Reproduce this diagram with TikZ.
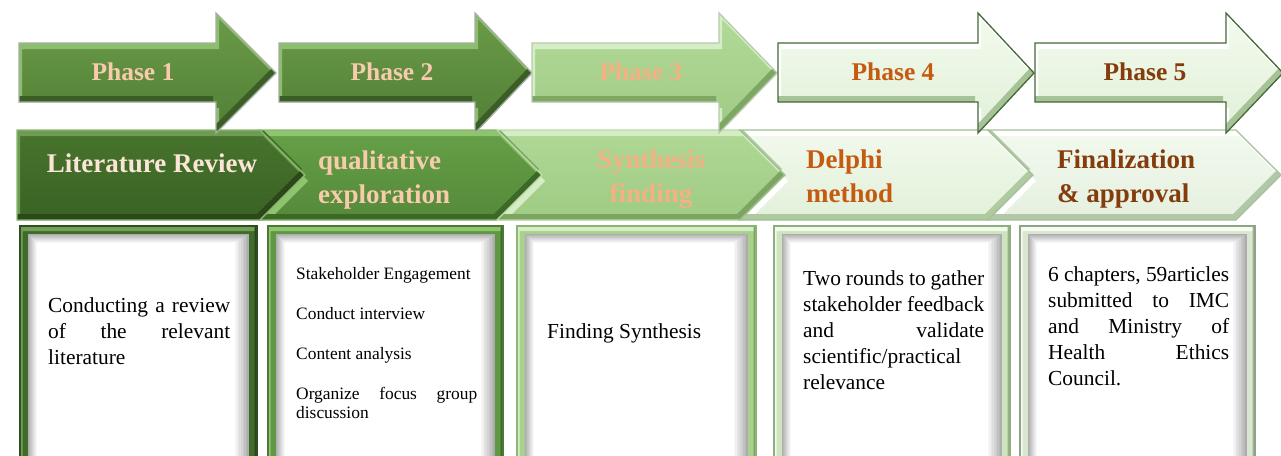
\documentclass[tikz,border=0pt]{standalone}
\usepackage{fontspec}
\setmainfont{Liberation Serif}
\definecolor{peachA}{HTML}{F8CBAD}
\definecolor{peachB}{HTML}{F4B183}
\definecolor{creamA}{HTML}{FBE5D6}
\definecolor{orangeA}{HTML}{C55A11}
\definecolor{brownA}{HTML}{843C0C}
\newcommand\bevelpath[7]{%
  \definecolor{bvtop}{HTML}{#2}\definecolor{bvbot}{HTML}{#3}%
  \definecolor{bvlight}{HTML}{#4}\definecolor{bvdark}{HTML}{#5}%
  \definecolor{bvline}{HTML}{#6}%
  \begin{scope}
    \clip #1;
    \shade[top color=bvtop, bottom color=bvbot] #1;
    \fill[bvlight, even odd rule, shift={(0.5*#7,#7)}] (-2000,-2000) rectangle (4000,4000) #1;
    \fill[bvdark, even odd rule, shift={(-0.5*#7,-#7)}] (-2000,-2000) rectangle (4000,4000) #1;
  \end{scope}
  \draw[bvline, line width=1.3pt, line join=miter] #1;
}
\newcommand\phasearrow[8]{% L H T facetop facebottom light dark outline
  \bevelpath{(#1,43) -- (#2,43) -- (#2,13) -- (#3,73) -- (#2,133) -- (#2,102) -- (#1,102) -- cycle}{#4}{#5}{#6}{#7}{#8}{6}%
}
\newcommand\chevshape[8]{% L S T facetop facebottom light dark outline
  \bevelpath{(#1,130) -- (#2,130) -- (#3,175) -- (#2,220) -- (#1,220) -- (#1+45,175) -- cycle}{#4}{#5}{#6}{#7}{#8}{6}%
}
\newcommand\chevfirst[8]{% L S T facetop facebottom light dark outline
  \bevelpath{(#1,130) -- (#2,130) -- (#3,175) -- (#2,220) -- (#1,220) -- cycle}{#4}{#5}{#6}{#7}{#8}{6}%
}
\newcommand\panelbox[6]{% L R frame light dark outline
  \bevelpath{(#1,226) rectangle (#2,462)}{#3}{#3}{#4}{#5}{#6}{5}%
  \foreach \k in {0,...,9} {%
    \pgfmathtruncatemacro\sh{max(0,32-3.6*\k)}%
    \fill[black!\sh!white] (#1+8+\k,234+\k) rectangle (#2-8-1.6*\k,462);
  }%
}
\tikzset{
  phasetxt/.style={font=\bfseries\fontsize{25.5}{30}\selectfont, anchor=base, inner sep=0pt},
  headtxt/.style={font=\bfseries\fontsize{27}{34}\selectfont, inner sep=0pt},
  bodytxt/.style={font=\fontsize{21.4}{26}\selectfont, inner sep=0pt, anchor=base west, text=black},
  smalltxt/.style={font=\fontsize{17.4}{19}\selectfont, inner sep=0pt, anchor=base west, text=black},
}
\begin{document}
\begin{tikzpicture}[x=1pt,y=-1pt]
\useasboundingbox (0,0) rectangle (1281,455);
\fill[white] (0,0) rectangle (1281,455);

% ---- lower panels ----
\panelbox{20}{257}{3F6D29}{739F58}{29481A}{2F4F20}
\panelbox{268}{503}{5F9843}{90C471}{3E6A27}{4C7A35}
\panelbox{517}{756}{A8D18E}{D6EDC8}{7BA460}{8DB475}
\panelbox{774}{1010}{CDE5BE}{F2FAEC}{93B383}{90AD82}
\panelbox{1020}{1255}{D9E7D1}{F6FAF3}{9CB292}{8FA386}

% ---- chevron row ----
\chevfirst{17}{260}{305}{47742D}{3A6224}{6F9C54}{2A4819}{8AB86D}
\chevshape{260}{497}{542}{65A046}{55893A}{8EC36F}{3D6927}{8AB86D}
\chevshape{497}{740}{785}{AFD895}{9FCB84}{D4EDC4}{7BA561}{BCD9A8}
\chevshape{740}{988}{1033}{F1F9EC}{E2F0D9}{FFFFFF}{AFC9A1}{9FBF8E}
\chevshape{988}{1236}{1281}{F2F9EE}{E5F0DF}{FFFFFF}{B2C7A8}{A6C19A}

% ---- phase arrows ----
\phasearrow{19}{216}{276}{6A9C48}{517E35}{8DBD6E}{3A5E25}{A4B0A0}
\phasearrow{279}{475}{532}{6A9C48}{517E35}{8DBD6E}{3A5E25}{A4B0A0}
\phasearrow{532}{719}{777}{B2DA98}{9FCA83}{D6EEC7}{7DA763}{B7CBAB}
\phasearrow{778}{978}{1034}{F3FAEE}{E1F0D8}{FFFFFF}{A6C397}{46683A}
\phasearrow{1035}{1226}{1283}{F3FAEE}{E1F0D8}{FFFFFF}{A6C397}{46683A}

% ---- phase labels ----
\node[phasetxt, text=peachA]  (p1) at (133,80) {Phase 1};
\node[phasetxt, text=peachA]  (p2) at (392,80) {Phase 2};
\node[phasetxt, text=peachB]  (p3) at (641,80) {Phase 3};
\node[phasetxt, text=orangeA] (p4) at (893,80) {Phase 4};
\node[phasetxt, text=brownA]  (p5) at (1145,80) {Phase 5};

% ---- chevron headings ----
\node[headtxt, text=creamA, anchor=base] (h1) at (152,172) {Literature Review};
\node[headtxt, text=peachA, anchor=base west] (h2) at (318,169)
  {\parbox[t]{200pt}{\raggedright qualitative\\exploration}};
\node[headtxt, text=peachB, anchor=base] (h3) at (651,168)
  {\parbox[t]{200pt}{\centering Synthesis\\finding}};
\node[headtxt, text=orangeA, anchor=base west] (h4) at (806,168)
  {\parbox[t]{200pt}{\raggedright Delphi\\method}};
\node[headtxt, text=brownA, anchor=base west] (h5) at (1057,168)
  {\parbox[t]{200pt}{\raggedright Finalization\\\&~approval}};

% ---- panel texts ----
\node[bodytxt] (t1) at (48,312)
  {\parbox[t]{182pt}{Conducting a review\linebreak of the relevant\linebreak literature}};
\node[smalltxt] (t2) at (296,279)
  {\parbox[t]{181pt}{Stakeholder Engagement\\[21pt]Conduct interview\\[21pt]Content analysis\\[21pt]Organize focus group\linebreak discussion}};
\node[bodytxt] (t3) at (547,338) {Finding Synthesis};
\node[bodytxt] (t4) at (803,285)
  {\parbox[t]{181pt}{Two rounds to gather\linebreak stakeholder feedback\linebreak and validate\linebreak scientific/practical\\relevance}};
\node[bodytxt] (t5) at (1048,281)
  {\parbox[t]{181pt}{6 chapters, 59articles\linebreak submitted to IMC\linebreak and Ministry of\linebreak Health Ethics\linebreak Council.}};
\end{tikzpicture}
\end{document}
